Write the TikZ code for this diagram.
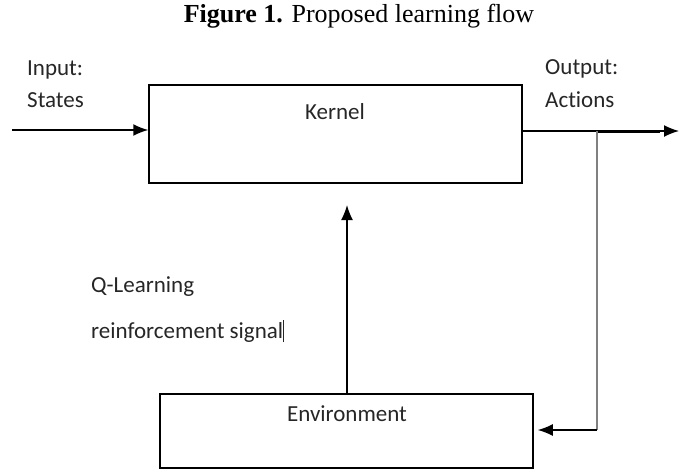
\documentclass[tikz,border=0pt]{standalone}
\usepackage{fontspec}
\setmainfont[Ligatures={NoCommon}]{Carlito}
\newfontfamily\capfont{Liberation Serif}
\tikzset{
  blockbox/.style={draw, line width=1.5pt, minimum width=373pt, minimum height=98pt, inner sep=0pt},
  label/.style={font=\fontsize{23}{27}\selectfont, anchor=west, inner sep=0pt, text=black!85},
  arr/.style={-{Latex[length=15pt,width=12pt]}, line width=1.5pt},
}
\usetikzlibrary{arrows.meta}
\begin{document}
\begin{tikzpicture}[x=1pt, y=-1pt]
    \useasboundingbox (0,0) rectangle (685,471);
    \node[font=\capfont\fontsize{26}{30}\selectfont] (caption) at (359,16) {\textbf{Figure 1.} Proposed learning flow};
    % blocks
    \node[blockbox, minimum height=98pt] (kernel) at (335.5,134) {};
    \node[label, anchor=center] (kerneltxt) at (335,112) {Kernel};
    \node[blockbox, minimum width=373pt, minimum height=74pt] (env) at (346.5,431) {};
    \node[label, anchor=center] (envtxt) at (347,414) {Environment};
    % texts
    \node[label] (intxt) at (27,70) {Input:};
    \node[label] (statetxt) at (27,100) {States};
    \node[label] (outtxt) at (545,69) {Output:};
    \node[label] (acttxt) at (545,100) {Actions};
    \node[label] (qtxt) at (91,287) {Q-Learning};
    \node[label] (sigtxt) at (91,331) {reinforcement signal\rule[-4pt]{1.3pt}{22pt}};
    % connectors
    \coordinate (instart) at (12,130);
    \coordinate (outend) at (679,131);
    \coordinate (split) at (597,131);
    \coordinate (corner) at (597,430);
    \draw[arr] (instart) -- (kernel.west |- instart);
    \draw[arr] (kernel.east |- outend) -- (outend);
    \draw[line width=3pt] (split) -- (660,131);
    \draw[line width=1.8pt, gray] (split) -- (corner);
    \draw[arr] (corner) -- ([xshift=4pt]env.east |- corner);
    \draw[arr] (env.north -| 347,0) -- (347,205);
\end{tikzpicture}
\end{document}
